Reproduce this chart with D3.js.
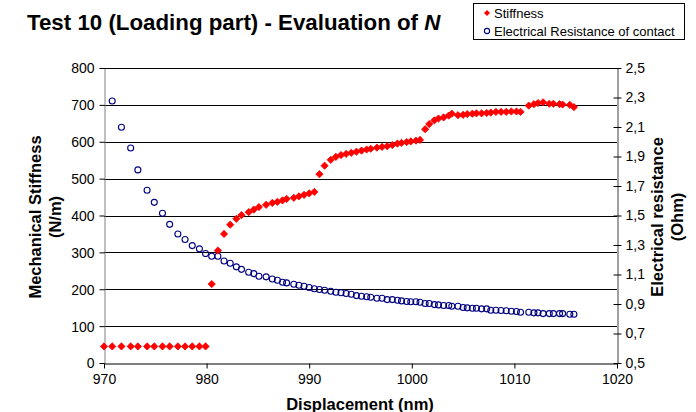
<!DOCTYPE html>
<html>
<head>
<meta charset="utf-8">
<script src="https://cdn.jsdelivr.net/npm/d3@7"></script>
<style>
  html, body { margin: 0; padding: 0; background: #fff; }
  svg { display: block; font-family: "Liberation Sans", Arial, sans-serif; }
</style>
</head>
<body>
<svg id="chart" width="696" height="412"></svg>
<script>
// ---- data ----
const displacement = [
  970.0, 970.8, 971.7, 972.6, 973.3, 974.2, 974.9, 975.7, 976.4, 977.2,
  977.9, 978.6, 979.3, 979.9, 980.5, 981.1, 981.7, 982.3, 982.9, 983.4,
  984.1, 984.6, 985.1, 985.8, 986.4, 986.9, 987.4, 987.8, 988.5, 989.0,
  989.5, 990.0, 990.5, 991.0, 991.5, 992.1, 992.6, 993.1, 993.6, 994.1,
  994.6, 995.1, 995.6, 996.0, 996.6, 997.1, 997.6, 998.1, 998.6, 999.0,
  999.5, 999.9, 1000.4, 1000.8, 1001.3, 1001.7, 1002.2, 1002.6, 1003.1, 1003.6,
  1003.9, 1004.5, 1005.0, 1005.4, 1005.9, 1006.3, 1006.8, 1007.3, 1007.7, 1008.2,
  1008.7, 1009.2, 1009.7, 1010.2, 1010.6, 1011.4, 1011.9, 1012.3, 1012.8, 1013.4,
  1013.8, 1014.4, 1014.7, 1015.4, 1015.8
];
const stiffness = [
  45, 45, 45, 45, 45, 45, 45, 45, 45, 45,
  45, 45, 45, 45, 214, 305, 350, 375, 391, 401,
  409, 416, 423, 429, 434, 437, 441, 445, 448, 452,
  456, 460, 464, 512, 535, 551, 559, 564, 567, 570,
  573, 576, 579, 581, 584, 586, 588, 591, 595, 597,
  599, 601, 603, 605, 634, 648, 658, 663, 666, 671,
  676, 672, 673, 675, 676, 677, 677, 678, 679, 681,
  681, 681, 682, 682, 681, 698, 702, 705, 707, 703,
  703, 702, 701, 700, 694
];
const resistance = [
  null, 2.276, 2.098, 1.958, 1.809, 1.671, 1.589, 1.515, 1.440, 1.375,
  1.337, 1.296, 1.274, 1.242, 1.224, 1.224, 1.192, 1.176, 1.152, 1.135,
  1.115, 1.106, 1.088, 1.084, 1.070, 1.061, 1.047, 1.043, 1.034, 1.027,
  1.020, 1.012, 1.003, 0.998, 0.993, 0.986, 0.980, 0.976, 0.971, 0.966,
  0.957, 0.953, 0.949, 0.946, 0.939, 0.939, 0.930, 0.930, 0.925, 0.921,
  0.917, 0.915, 0.915, 0.912, 0.903, 0.903, 0.896, 0.894, 0.890, 0.890,
  0.885, 0.885, 0.876, 0.874, 0.871, 0.871, 0.867, 0.867, 0.858, 0.858,
  0.856, 0.854, 0.851, 0.849, 0.844, 0.844, 0.840, 0.840, 0.835, 0.835,
  0.835, 0.835, 0.835, 0.831, 0.831
];
const xTicks = [970, 980, 990, 1000, 1010, 1020];
const leftTicks = [0, 100, 200, 300, 400, 500, 600, 700, 800];
const rightTicks = [0.5, 0.7, 0.9, 1.1, 1.3, 1.5, 1.7, 1.9, 2.1, 2.3, 2.5];
const seriesNames = ["Stiffness", "Electrical Resistance of contact"];

// ---- layout ----
const FONT = "'Liberation Sans', Arial, sans-serif";
const svg = d3.select("#chart");
const L = 104, R = 617, T = 68, B = 363;

const x = d3.scaleLinear().domain([970, 1020]).range([L, R]);
const yL = d3.scaleLinear().domain([0, 800]).range([B, T]);
const yR = d3.scaleLinear().domain([0.5, 2.5]).range([B, T]);

// gridlines
svg.append("g").selectAll("line").data(leftTicks.filter(d => d > 0)).join("line")
  .attr("x1", L).attr("x2", R)
  .attr("y1", d => Math.round(yL(d)) + 0.5).attr("y2", d => Math.round(yL(d)) + 0.5)
  .attr("stroke", "#000").attr("stroke-width", 1);

// left axis
const gL = svg.append("g").attr("transform", `translate(${L + 0.5},0.5)`)
  .call(d3.axisLeft(yL).tickValues(leftTicks).tickSize(5).tickPadding(5).tickSizeOuter(0));
gL.select(".domain").attr("stroke", "#808080");
gL.selectAll(".tick line").attr("stroke", "#000").attr("transform", "translate(0,-0.5)");
gL.selectAll("text").attr("font-size", 14).attr("fill", "#000").attr("font-family", FONT);

// right axis
const gR = svg.append("g").attr("transform", `translate(${R + 0.5},0)`)
  .call(d3.axisRight(yR).tickValues(rightTicks).tickSize(4).tickPadding(4).tickSizeOuter(0)
    .tickFormat(d => d3.format(".1f")(d).replace(".", ",")));
gR.select(".domain").attr("stroke", "#404040");
gR.selectAll(".tick line").attr("x1", -4).attr("stroke", "#000");
gR.selectAll("text").attr("font-size", 14).attr("fill", "#000").attr("font-family", FONT);

// bottom axis
const gB = svg.append("g").attr("transform", `translate(0,${B + 0.5})`)
  .call(d3.axisBottom(x).tickValues(xTicks).tickSize(5).tickPadding(6).tickSizeOuter(0)
    .tickFormat(d3.format("d")));
gB.select(".domain").attr("stroke", "#000");
gB.selectAll(".tick line").attr("stroke", "#000");
gB.selectAll("text").attr("font-size", 14).attr("fill", "#000").attr("font-family", FONT);

// data: resistance (circles)
const pts = displacement.map((d, i) => ({ x: d, s: stiffness[i], r: resistance[i] }));
svg.append("g").selectAll("circle").data(pts.filter(d => d.r != null)).join("circle")
  .attr("cx", d => x(d.x)).attr("cy", d => yR(d.r)).attr("r", 3)
  .attr("fill", "none").attr("stroke", "#000080").attr("stroke-width", 1.1);

// data: stiffness (diamonds)
const diamond = d3.symbol().type(d3.symbolSquare).size(26);
svg.append("g").selectAll("path").data(pts).join("path")
  .attr("d", diamond)
  .attr("transform", d => `translate(${x(d.x)},${yL(d.s)}) rotate(45)`)
  .attr("fill", "#ff0000").attr("stroke", "#ff0000").attr("stroke-width", 0.8);

// title
const title = svg.append("text").attr("x", 27).attr("y", 30).attr("font-family", FONT)
  .attr("font-size", 22.3).attr("font-weight", "bold").attr("fill", "#000");
title.append("tspan").text("Test 10 (Loading part) - Evaluation of ");
title.append("tspan").attr("font-style", "italic").text("N");

// axis titles
const axisTitle = (tr, txt) => svg.append("text").attr("transform", tr)
  .attr("text-anchor", "middle").attr("font-size", 16.5).attr("font-weight", "bold")
  .attr("font-family", FONT).text(txt);
axisTitle("translate(41,217) rotate(-90)", "Mechanical Stiffness");
axisTitle("translate(61,217) rotate(-90)", "(N/m)");
axisTitle("translate(663,217) rotate(-90)", "Electrical resistance");
axisTitle("translate(683,217) rotate(-90)", "(Ohm)");
axisTitle("translate(360,410)", "Displacement (nm)");

// legend
const lg = svg.append("g");
lg.append("rect").attr("x", 473.5).attr("y", 3.5).attr("width", 211).attr("height", 36)
  .attr("fill", "#fff").attr("stroke", "#000").attr("stroke-width", 1);
lg.append("path").attr("d", d3.symbol().type(d3.symbolSquare).size(18))
  .attr("transform", "translate(487,13) rotate(45)").attr("fill", "#ff0000");
lg.append("circle").attr("cx", 487).attr("cy", 31).attr("r", 2.6)
  .attr("fill", "none").attr("stroke", "#000080").attr("stroke-width", 1.1);
lg.append("text").attr("x", 494).attr("y", 17.5).attr("font-size", 13).attr("font-family", FONT).text(seriesNames[0]);
lg.append("text").attr("x", 494).attr("y", 35.5).attr("font-size", 13).attr("font-family", FONT).text(seriesNames[1]);
</script>
</body>
</html>
